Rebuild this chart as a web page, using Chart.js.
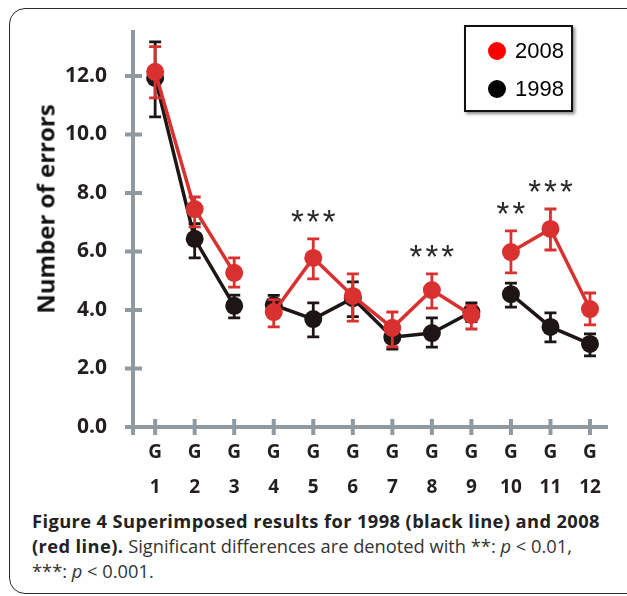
<!DOCTYPE html>
<html>
<head>
<meta charset="utf-8">
<script src="https://cdn.jsdelivr.net/npm/chart.js@4.4.1/dist/chart.umd.min.js"></script>
<style>
  html, body { margin: 0; padding: 0; background: #fff; }
  body { width: 627px; height: 596px; position: relative; overflow: hidden; font-family: "Open Sans", sans-serif; }
  #frame { position: absolute; left: 9px; top: 8px; width: 640px; height: 584px; border: 1.5px solid #2b2b2b; border-radius: 16px; }
  #wrap { position: absolute; left: 0; top: 0; width: 627px; height: 505px; }
  #ytitle { position: absolute; left: 45px; top: 209px; transform: translate(-50%, -50%) rotate(-90deg); font: bold 24px "Open Sans"; color: #111; white-space: nowrap; }
  #legend { position: absolute; left: 464px; top: 25px; width: 105px; height: 83px; border: 2px solid #111; box-shadow: 2px 2px 3px #888; background: #fff; }
  .item { position: absolute; left: 22px; font: 22px "Liberation Sans", Arial, sans-serif; color: #000; }
  .item span { display: inline-block; width: 18px; height: 18px; border-radius: 50%; vertical-align: -2px; margin-right: 9px; }
  #caption { position: absolute; left: 32px; top: 508px; width: 595px; font-size: 18.3px; line-height: 25px; color: #333; white-space: nowrap; }
  #caption b { color: #222; letter-spacing: 0.4px; }
</style>
</head>
<body>
<div id="frame"></div>
<div id="wrap"><canvas id="c"></canvas></div>
<div id="ytitle">Number of errors</div>
<div id="legend">
  <div class="item" style="top:11px"><span style="background:#ff0000"></span>2008</div>
  <div class="item" style="top:49px"><span style="background:#000"></span>1998</div>
</div>
<div id="caption"><b>Figure 4 Superimposed results for 1998 (black line) and 2008<br>(red line).</b> Significant differences are denoted with **: <i>p</i> &lt; 0.01,<br>***: <i>p</i> &lt; 0.001.</div>
<script>
// groups G1..G12
const groups = ['1', '2', '3', '4', '5', '6', '7', '8', '9', '10', '11', '12'];
const yTicks = [0, 2, 4, 6, 8, 10, 12];

// 2008 (red line)
const errors2008 = [12.14, 7.45, 5.27, 3.93, 5.78, 4.48, 3.39, 4.68, 3.83, 5.98, 6.77, 4.03];
const high2008 = [13.0, 7.86, 5.78, 4.35, 6.43, 5.23, 3.93, 5.23, 4.15, 6.7, 7.45, 4.58];
const low2008 = [11.25, 6.84, 4.78, 3.42, 5.06, 3.62, 2.74, 4.06, 3.35, 5.27, 6.05, 3.49];

// 1998 (black line)
const errors1998 = [11.93, 6.43, 4.14, 4.17, 3.69, 4.4, 3.07, 3.21, 3.93, 4.54, 3.42, 2.84];
const high1998 = [13.16, 6.95, 4.51, 4.5, 4.24, 4.96, 3.45, 3.73, 4.24, 4.92, 3.9, 3.18];
const low1998 = [10.6, 5.78, 3.73, 3.85, 3.08, 3.77, 2.66, 2.73, 3.6, 4.1, 2.91, 2.43];

// significance marks per group
const signif = ['', '', '', '', '***', '', '', '***', '', '**', '***', ''];
// the lines break after these groups
const breaksAfter = [3, 9];

const RED = '#d8312f';
const BLACK = '#1e1614';
const AXIS = '#8f999f';
const TEXT = '#231f20';

function toPoints(arr) {
    return arr.map((v, i) => ({ x: i + 1, y: v }));
}

function lineSegment(color) {
    return {
        borderColor: ctx => breaksAfter.includes(ctx.p0DataIndex + 1) ? 'transparent' : color
    };
}

// error bars, drawn right after each dataset
const errorBars = {
    id: 'errorBars',
    afterDatasetDraw(chart, args) {
        const ds = chart.data.datasets[args.index];
        const x = chart.scales.x, y = chart.scales.y;
        const ctx = chart.ctx;
        ctx.save();
        ctx.strokeStyle = ds.borderColor;
        ctx.lineWidth = 2.8;
        ds.data.forEach((p, i) => {
            const px = x.getPixelForValue(p.x);
            const top = y.getPixelForValue(ds.high[i]);
            const bot = y.getPixelForValue(ds.low[i]);
            ctx.beginPath();
            ctx.moveTo(px, top); ctx.lineTo(px, bot);
            ctx.moveTo(px - 6, top); ctx.lineTo(px + 6, top);
            ctx.moveTo(px - 6, bot); ctx.lineTo(px + 6, bot);
            ctx.stroke();
        });
        ctx.restore();
    }
};

// tick marks crossing the axes and the significance stars
const decorations = {
    id: 'decorations',
    afterDraw(chart) {
        const x = chart.scales.x, y = chart.scales.y;
        const ctx = chart.ctx;
        const a = chart.chartArea;
        ctx.save();
        ctx.strokeStyle = AXIS;
        ctx.lineWidth = 4;
        ctx.beginPath();
        yTicks.forEach(v => {
            const py = y.getPixelForValue(v);
            ctx.moveTo(a.left - 8, py); ctx.lineTo(a.left + 9, py);
        });
        groups.forEach((g, i) => {
            const px = x.getPixelForValue(i + 1);
            ctx.moveTo(px, a.bottom - 8); ctx.lineTo(px, a.bottom + 8);
        });
        ctx.moveTo(a.left, a.bottom); ctx.lineTo(a.left, a.bottom + 8);
        ctx.stroke();

        ctx.fillStyle = '#2a2a2a';
        ctx.font = '33px "Liberation Sans", Arial, sans-serif';
        ctx.letterSpacing = '3px';
        ctx.textAlign = 'center';
        ctx.textBaseline = 'alphabetic';
        signif.forEach((s, i) => {
            if (!s) return;
            const px = x.getPixelForValue(i + 1) + 1.5;
            const top = y.getPixelForValue(Math.max(high2008[i], high1998[i]));
            ctx.fillText(s, px, top - 6);
        });
        ctx.restore();
    }
};

new Chart(document.getElementById('c'), {
    type: 'line',
    data: {
        datasets: [{
            label: '2008',
            data: toPoints(errors2008),
            high: high2008,
            low: low2008,
            borderColor: RED,
            backgroundColor: RED,
            borderWidth: 3.5,
            pointRadius: 9,
            pointBorderWidth: 0,
            segment: lineSegment(RED)
        }, {
            label: '1998',
            data: toPoints(errors1998),
            high: high1998,
            low: low1998,
            borderColor: BLACK,
            backgroundColor: BLACK,
            borderWidth: 3.5,
            pointRadius: 9,
            pointBorderWidth: 0,
            segment: lineSegment(BLACK)
        }]
    },
    options: {
        responsive: true,
        maintainAspectRatio: false,
        animation: false,
        layout: { padding: { left: 0, right: 20, top: 32, bottom: 0 } },
        plugins: {
            legend: { display: false },
            tooltip: { enabled: false }
        },
        scales: {
            x: {
                type: 'linear',
                min: 0.44,
                max: 12.43,
                grid: { display: false },
                border: { color: AXIS, width: 4 },
                afterBuildTicks: s => { s.ticks = groups.map((g, i) => ({ value: i + 1 })); },
                afterFit: s => { s.height = 78; },
                ticks: {
                    autoSkip: false,
                    maxRotation: 0,
                    padding: 0,
                    color: TEXT,
                    font: { family: 'Open Sans', weight: 'bold', size: 19, lineHeight: 1.85 },
                    callback: v => ['G', groups[v - 1]]
                }
            },
            y: {
                min: 0,
                max: 13.5,
                grid: { display: false },
                border: { color: AXIS, width: 4 },
                afterBuildTicks: s => { s.ticks = yTicks.map(v => ({ value: v })); },
                afterFit: s => { s.width = 133; },
                ticks: {
                    padding: 18,
                    color: TEXT,
                    font: { family: 'Open Sans', weight: 'bold', size: 21 },
                    callback: v => v.toFixed(1)
                }
            }
        }
    },
    plugins: [errorBars, decorations]
});
</script>
</body>
</html>
